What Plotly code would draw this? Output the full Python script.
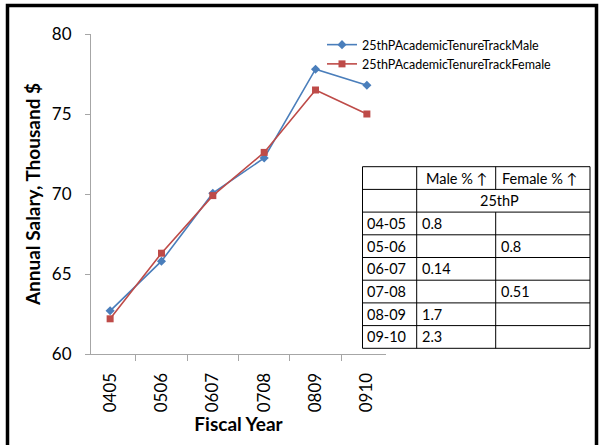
import plotly.graph_objects as go

# ---- data ----
categories = ["0405", "0506", "0607", "0708", "0809", "0910"]
male = [62.7, 65.8, 70.05, 72.25, 77.8, 76.8]
female = [62.2, 66.3, 69.9, 72.6, 76.5, 75.0]

male_name = "25thPAcademicTenureTrackMale"
female_name = "25thPAcademicTenureTrackFemale"

table_header = ["", "Male % \u2191", "Female % \u2191"]
table_subheader = "25thP"
table_years = ["04-05", "05-06", "06-07", "07-08", "08-09", "09-10"]
table_male = ["0.8", "", "0.14", "", "1.7", "2.3"]
table_female = ["", "0.8", "", "0.51", "", ""]

# ---- layout geometry (pixels) ----
W, H = 603, 445
L, R, T, B = 91, 386, 34, 354


def px(x):
    return (x - L) / (R - L)


def py(y):
    return (B - y) / (B - T)


FONT = "Lato, 'Open Sans', sans-serif"
BLUE = "#4A7EBB"
RED = "#BE4B48"
AXIS = "#A6A6A6"

fig = go.Figure()
fig.add_trace(go.Scatter(
    x=categories, y=male, name=male_name, mode="lines+markers",
    line=dict(color=BLUE, width=1.6),
    marker=dict(symbol="diamond", size=7, color=BLUE),
))
fig.add_trace(go.Scatter(
    x=categories, y=female, name=female_name, mode="lines+markers",
    line=dict(color=RED, width=1.6),
    marker=dict(symbol="square", size=7, color=RED),
))

shapes = []
annotations = []

# outer black frame
shapes.append(dict(type="rect", xref="paper", yref="paper",
                   x0=px(7.5), x1=px(596.5), y0=py(470), y1=py(5.5),
                   line=dict(color="black", width=3.5), layer="below"))

# table
tx = [362.5, 416.7, 495.7, 590]
ty0, ty1 = 166.7, 348.3
nrows = 2 + len(table_years)
rh = (ty1 - ty0) / nrows
line_style = dict(color="black", width=1)
for i in range(nrows + 1):
    y = ty0 + i * rh
    shapes.append(dict(type="line", xref="paper", yref="paper",
                       x0=px(tx[0]), x1=px(tx[3]), y0=py(y), y1=py(y),
                       line=line_style))
for j, x in enumerate(tx):
    if j == 2:
        segs = [(ty0, ty0 + rh), (ty0 + 2 * rh, ty1)]
    else:
        segs = [(ty0, ty1)]
    for a, b in segs:
        shapes.append(dict(type="line", xref="paper", yref="paper",
                           x0=px(x), x1=px(x), y0=py(a), y1=py(b),
                           line=line_style))

TFONT = dict(family=FONT, size=14.5, color="black")


def cell_text(text, col, row, pad=3):
    yc = ty0 + (row + 0.5) * rh
    annotations.append(dict(text=text, xref="paper", yref="paper",
                            x=px(tx[col] + pad), y=py(yc), xanchor="left",
                            yanchor="middle", showarrow=False, font=TFONT))


cell_text(table_header[1], 1, 0, pad=7)
cell_text(table_header[2], 2, 0, pad=4)
annotations.append(dict(text=table_subheader, xref="paper", yref="paper",
                        x=px((tx[1] + tx[3]) / 2 - 4), y=py(ty0 + 1.5 * rh),
                        xanchor="center", yanchor="middle", showarrow=False,
                        font=TFONT))
for i, yr in enumerate(table_years):
    cell_text(yr, 0, i + 2, pad=2)
    if table_male[i]:
        cell_text(table_male[i], 1, i + 2)
    if table_female[i]:
        cell_text(table_female[i], 2, i + 2)

fig.update_layout(
    width=W, height=H,
    margin=dict(l=L, r=W - R, t=T, b=H - B, pad=0, autoexpand=False),
    paper_bgcolor="white", plot_bgcolor="white",
    font=dict(family=FONT, color="black"),
    showlegend=True,
    legend=dict(x=px(322), y=py(30), xanchor="left", yanchor="top",
                font=dict(family=FONT, size=12.5, color="black"),
                bgcolor="rgba(0,0,0,0)", tracegroupgap=0),
    xaxis=dict(
        type="category", tickangle=-90, tickson="boundaries",
        ticks="outside", ticklen=6, tickcolor=AXIS,
        showline=True, linecolor=AXIS, linewidth=1,
        showgrid=False, zeroline=False, automargin=False,
        ticklabelstandoff=11,
        tickfont=dict(family=FONT, size=17, color="black"),
        title=dict(text="<b>Fiscal Year</b>", font=dict(family=FONT, size=19), standoff=2),
    ),
    yaxis=dict(
        range=[60, 80], dtick=5, ticks="outside", ticklen=5, tickcolor=AXIS,
        showline=True, linecolor=AXIS, linewidth=1,
        showgrid=False, zeroline=False, automargin=False,
        ticklabelstandoff=10,
        tickfont=dict(family=FONT, size=17, color="black"),
        title=dict(text="<b>Annual Salary, Thousand $</b>", font=dict(family=FONT, size=19), standoff=6),
    ),
    shapes=shapes,
    annotations=annotations,
)

fig.write_html("out.html", config={"displayModeBar": False},
               post_script="document.body.style.margin='0';")
